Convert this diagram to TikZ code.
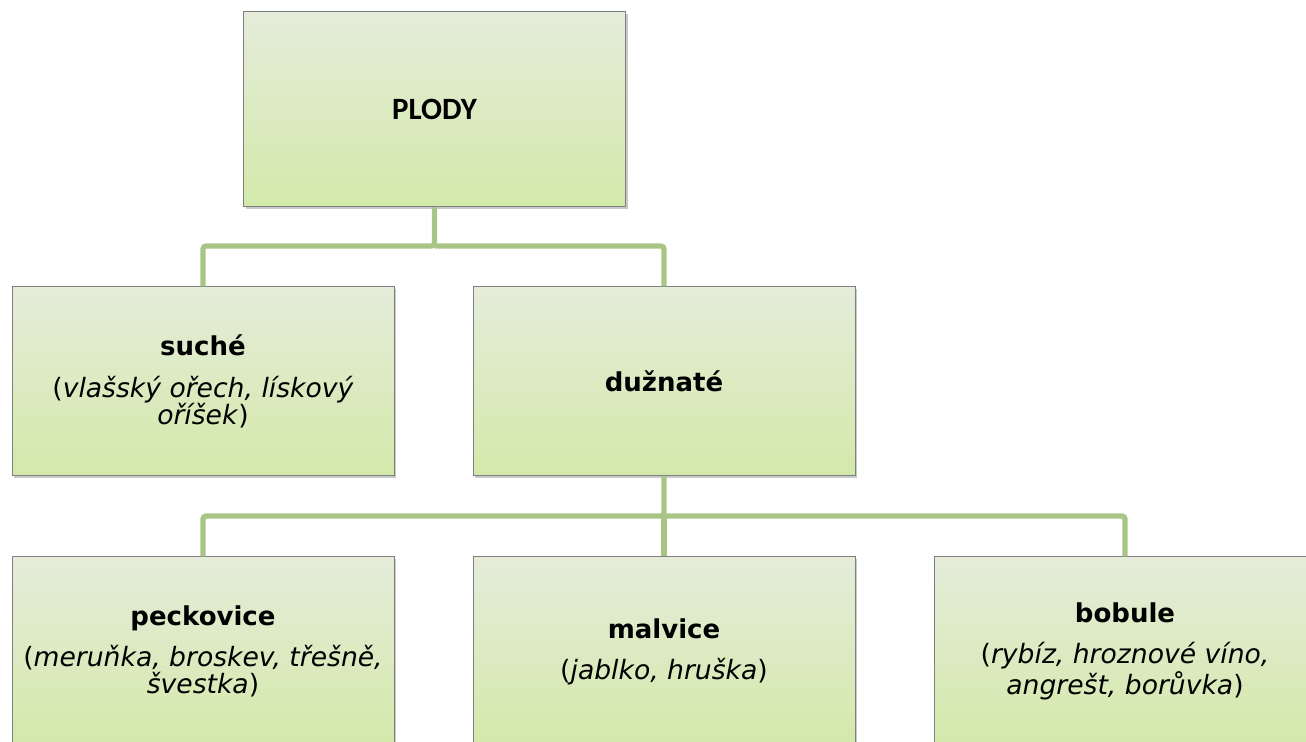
\documentclass[tikz,border=0pt]{standalone}
\usepackage{fontspec}
\setmainfont{DejaVu Sans}
\newfontfamily\calib{Carlito}
\usetikzlibrary{shadows}
\definecolor{boxtop}{HTML}{E5ECDA}
\definecolor{boxbot}{HTML}{D3E9AA}
\definecolor{conn}{HTML}{A8C585}
\definecolor{edge}{HTML}{7F7F7F}
\begin{document}
\begin{tikzpicture}[x=0.5pt,y=-0.5pt,
  box/.style={draw=edge, line width=0.5pt, top color=boxtop, bottom color=boxbot,
    minimum width=191pt, minimum height=94.5pt, inner sep=0pt, align=center,
    font=\fontsize{13.3}{13.6}\selectfont,
    drop shadow={shadow xshift=1.2pt, shadow yshift=-1.2pt, opacity=0.3, fill=black!70}},
  link/.style={draw=conn, line width=2.6pt, rounded corners=1.5pt}]
\useasboundingbox (0,0) rectangle (1306,742);
\clip (0,0) rectangle (1306,742);
\node[box, minimum height=97.5pt] (plody) at (434.5,109.5) {{\calib\bfseries\fontsize{15.5}{18}\selectfont PLODY}};
\node[box] (suche) at (203,381.5) {{\fontsize{13}{15}\selectfont\bfseries suché}\\[7pt](\textit{vlašský ořech, lískový}\\\textit{oříšek})};
\node[box] (duz) at (664,381.5) {{\fontsize{13}{15}\selectfont\bfseries dužnaté}};
\node[box] (peck) at (203,651.5) {{\fontsize{13}{15}\selectfont\bfseries peckovice}\\[7pt](\textit{meruňka, broskev, třešně,}\\\textit{švestka})};
\node[box] (malv) at (664,651.5) {{\fontsize{13}{15}\selectfont\bfseries malvice}\\[7pt](\textit{jablko, hruška})};
\node[box] (bob) at (1125,651.5) {{\fontsize{13}{15}\selectfont\bfseries bobule}\\[7pt](\textit{rybíz, hroznové víno,}\\\textit{angrešt, borůvka})};
\coordinate (j1) at (434.5,246);
\coordinate (j2) at (664,516);
\draw[link] (plody.south) -- (j1) -| (suche.north);
\draw[link] (j1) -| (duz.north);
\draw[link] (duz.south) -- (j2) -| (peck.north);
\draw[link] (j2) -| (bob.north);
\draw[link] (j2) -- (malv.north);
\end{tikzpicture}
\end{document}
